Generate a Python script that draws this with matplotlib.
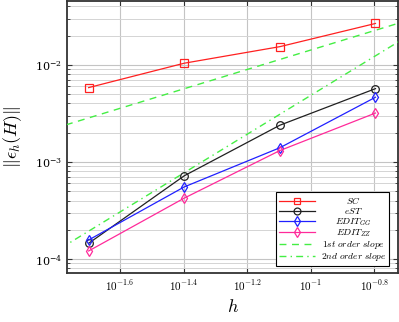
import numpy as np
import matplotlib
matplotlib.use("Agg")
import matplotlib.pyplot as plt
from matplotlib.ticker import FixedLocator, FixedFormatter, NullLocator, LogLocator, NullFormatter

plt.rcParams['mathtext.fontset'] = 'cm'
plt.rcParams['font.family'] = ['DejaVu Serif']

# ---- data ----
h = [0.02, 0.04, 0.08, 0.16]
err_SC = [5.83e-3, 1.04e-2, 1.54e-2, 2.67e-2]
err_eST = [1.45e-4, 7.2e-4, 2.39e-3, 5.69e-3]
err_EDIT_GG = [1.57e-4, 5.53e-4, 1.40e-3, 4.64e-3]
err_EDIT_ZZ = [1.21e-4, 4.24e-4, 1.31e-3, 3.19e-3]
slope_h = [0.012, 0.25]
first_order_coef = 0.142
second_order_coef = 0.484
xtick_exps = [-1.6, -1.4, -1.2, -1.0, -0.8]
xtick_labels = [r'$10^{-1.6}$', r'$10^{-1.4}$', r'$10^{-1.2}$', r'$10^{-1}$', r'$10^{-0.8}$']
series_labels = [r'$SC$', r'$eST$', r'$EDIT_{GG}$', r'$EDIT_{ZZ}$',
                 r'$\mathit{1st\ order\ slope}$', r'$\mathit{2nd\ order\ slope}$']

fig = plt.figure(figsize=(3.99, 3.22), dpi=100)
ax = fig.add_axes([67/399, 49/322, 331/399, 272.5/322])
ax.set_xscale('log')
ax.set_yscale('log')

ax.plot(h, err_SC, color='#ff2020', lw=0.9, marker='s', ms=5.5, mfc='none', mew=0.9, label=series_labels[0], zorder=5)
ax.plot(h, err_eST, color='#202020', lw=0.9, marker='o', ms=5.5, mfc='none', mew=0.9, label=series_labels[1], zorder=5)
ax.plot(h, err_EDIT_GG, color='#2020ff', lw=0.9, marker='d', ms=5.5, mfc='none', mew=0.9, label=series_labels[2], zorder=5)
ax.plot(h, err_EDIT_ZZ, color='#ff2a9a', lw=0.9, marker='d', ms=5.5, mfc='none', mew=0.9, label=series_labels[3], zorder=5)
sh = np.array(slope_h)
ax.plot(sh, first_order_coef * sh, color='#44ee44', lw=1.0, ls=(0, (5, 4)), label=series_labels[4], zorder=4)
ax.plot(sh, second_order_coef * sh**2, color='#44ee44', lw=1.0, ls=(0, (5, 3, 1, 3)), label=series_labels[5], zorder=4)

ax.set_xlim(10**-1.767, 10**-0.725)
ax.set_ylim(10**-4.144, 10**-1.337)

ax.xaxis.set_major_locator(FixedLocator([10**e for e in xtick_exps]))
ax.xaxis.set_major_formatter(FixedFormatter(xtick_labels))
ax.xaxis.set_minor_locator(NullLocator())
ax.yaxis.set_major_locator(LogLocator(base=10))
ax.yaxis.set_minor_locator(LogLocator(base=10, subs=np.arange(2, 10)))
ax.yaxis.set_minor_formatter(NullFormatter())

ax.grid(True, which='major', color='#c4c4c4', lw=0.8)
ax.grid(True, which='minor', axis='y', color='#d4d4d4', lw=0.7)
ax.set_axisbelow(True)

ax.tick_params(which='both', direction='in', top=True, right=True, labelsize=8, colors='#333333', labelcolor='black')
ax.tick_params(which='major', length=3.5, width=0.8)
ax.tick_params(which='minor', length=2, width=0.6)
for s in ax.spines.values():
    s.set_color('#333333')
    s.set_linewidth(1.3)

ax.set_xlabel(r'$h$', fontsize=13, labelpad=4)
ax.set_ylabel(r'$\|\epsilon_h(H)\|$', fontsize=13, labelpad=8)

leg = ax.legend(loc='lower right', bbox_to_anchor=(0.973, 0.026), borderaxespad=0,
                fontsize=6.8, handlelength=3.8, labelspacing=0.0, fancybox=False,
                edgecolor='black', framealpha=1, borderpad=0.28, handletextpad=0.6,
                markerscale=0.9)
leg.get_frame().set_linewidth(0.8)

fig.canvas.draw()
r = fig.canvas.get_renderer()
texts = leg.get_texts()
ws = [t.get_window_extent(r).width for t in texts]
mw = max(ws)
for t, w in zip(texts, ws):
    t.set_x((mw - w) / 2)

fig.savefig('out.png', dpi=100)
